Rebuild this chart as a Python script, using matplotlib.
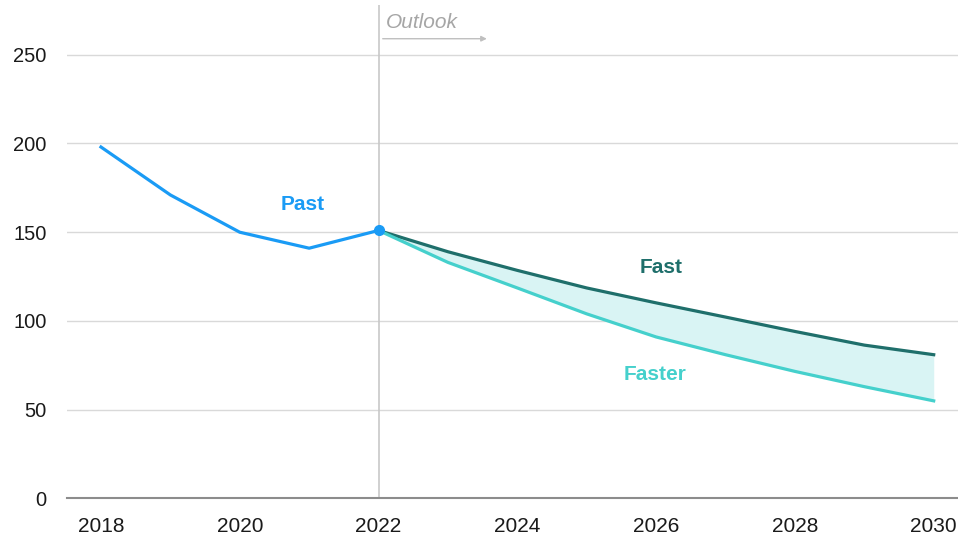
import matplotlib.pyplot as plt

# data
past_years = [2018, 2019, 2020, 2021, 2022]
past_vals = [198, 171, 150, 141, 151]
out_years = [2022, 2023, 2024, 2025, 2026, 2027, 2028, 2029, 2030]
fast_vals = [151, 139, 128.5, 118.6, 110.2, 102.2, 94.1, 86.4, 81]
faster_vals = [151, 133, 118.6, 104, 91, 81, 71.6, 63, 55]
x_ticks = [2018, 2020, 2022, 2024, 2026, 2028, 2030]
y_ticks = [0, 50, 100, 150, 200, 250]

c_past = "#1a9bf5"
c_fast = "#1f6f6b"
c_faster = "#45d0cc"
c_fill = "#d9f4f4"

plt.rcParams['font.family'] = ['Liberation Sans', 'DejaVu Sans']

fig = plt.figure(figsize=(9.58, 5.37), dpi=100)
ax = fig.add_axes([0.0699, 0.0717, 0.9301, 0.919])

ax.set_xlim(2017.51, 2030.35)
ax.set_ylim(0, 278)

ax.set_yticks(y_ticks)
ax.set_xticks(x_ticks)
ax.grid(axis='y', color='#d9d9d9', lw=1)
ax.set_axisbelow(True)
for s in ['top', 'right', 'left']:
    ax.spines[s].set_visible(False)
ax.spines['bottom'].set_color('#8c8c8c')
ax.spines['bottom'].set_linewidth(1.5)
ax.tick_params(axis='both', length=0)
ax.tick_params(axis='y', pad=14.5, labelsize=14.5, colors='#1a1a1a')
ax.tick_params(axis='x', pad=13, labelsize=15, colors='#1a1a1a')

# outlook divider
ax.axvline(2022, color='#c8c8c8', lw=1.2, zorder=1)
ax.text(2022.1, 268, "Outlook", style='italic', color='#a6a6a6', fontsize=15, va='center')
ax.annotate("", xy=(2023.6, 259), xytext=(2022.02, 259),
            arrowprops=dict(arrowstyle='-|>', color='#bfbfbf', lw=1, mutation_scale=8))

ax.fill_between(out_years, faster_vals, fast_vals, color=c_fill, lw=0, zorder=2)
ax.plot(out_years, fast_vals, color=c_fast, lw=2.3, zorder=3)
ax.plot(out_years, faster_vals, color=c_faster, lw=2.3, zorder=3)
ax.plot(past_years, past_vals, color=c_past, lw=2.3, zorder=4)
ax.plot([past_years[-1]], [past_vals[-1]], 'o', color=c_past, ms=7, zorder=5)

ax.text(2020.9, 165.5, "Past", color=c_past, fontsize=15, fontweight='bold', ha='center', va='center')
ax.text(2026.07, 130, "Fast", color=c_fast, fontsize=15, fontweight='bold', ha='center', va='center')
ax.text(2025.98, 70, "Faster", color=c_faster, fontsize=15, fontweight='bold', ha='center', va='center')

fig.savefig("out.png", dpi=100)
